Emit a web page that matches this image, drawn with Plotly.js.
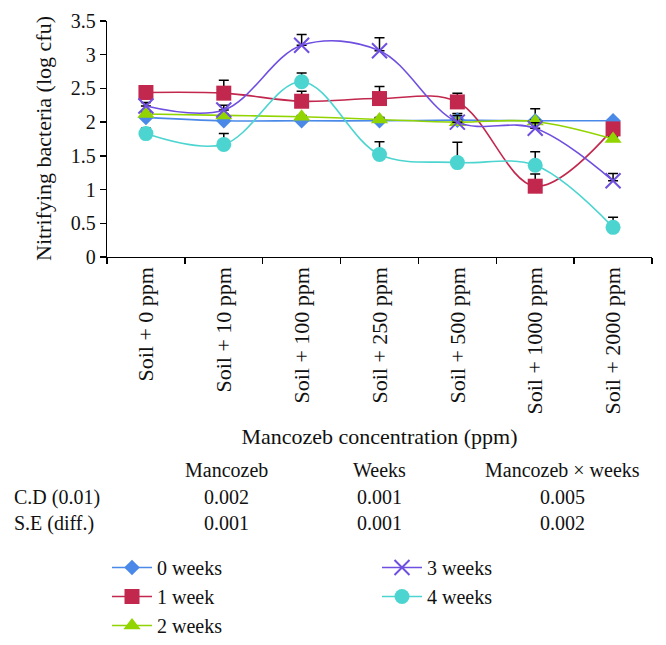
<!DOCTYPE html>
<html>
<head>
<meta charset="utf-8">
<script src="https://cdn.plot.ly/plotly-3.0.1.min.js"></script>
<style>html,body{margin:0;padding:0;background:#fff;}#chart{width:666px;height:645px;}</style>
</head>
<body>
<div id="chart"></div>
<script>
// ---- data ----
const categories = ["Soil + 0 ppm", "Soil + 10 ppm", "Soil + 100 ppm", "Soil + 250 ppm", "Soil + 500 ppm", "Soil + 1000 ppm", "Soil + 2000 ppm"];
const seriesNames = ["0 weeks", "1 week", "2 weeks", "3 weeks", "4 weeks"];
const week0 = [2.07, 2.02, 2.02, 2.02, 2.03, 2.02, 2.02];
const week1 = [2.44, 2.43, 2.31, 2.35, 2.30, 1.05, 1.90];
const week2 = [2.12, 2.10, 2.08, 2.04, 2.00, 2.01, 1.75];
const week3 = [2.24, 2.18, 3.14, 3.06, 2.00, 1.91, 1.13];
const week4 = [1.83, 1.67, 2.60, 1.52, 1.40, 1.36, 0.44];
const err0 = [0.03, 0.02, 0.02, 0.02, 0.10, 0.18, 0.02];
const err1 = [0.03, 0.19, 0.15, 0.18, 0.13, 0.18, 0.03];
const err2 = [0.03, 0.02, 0.02, 0.03, 0.03, 0.02, 0.03];
const err3 = [0.05, 0.07, 0.16, 0.19, 0.10, 0.08, 0.11];
const err4 = [0.08, 0.16, 0.13, 0.19, 0.30, 0.20, 0.15];
const tableCols = ["Mancozeb", "Weeks", "Mancozeb × weeks"];
const tableRows = ["C.D (0.01)", "S.E (diff.)"];
const cdValues = ["0.002", "0.001", "0.005"];
const seValues = ["0.001", "0.001", "0.002"];
const yTitle = "Nitrifying bacteria (log cfu)";
const xTitle = "Mancozeb concentration (ppm)";

// ---- style ----
const W = 666, H = 645;
const M = {l: 107, r: 14, t: 21, b: 388, autoexpand: false};
const PW = W - M.l - M.r, PH = H - M.t - M.b;
const px = x => (x - M.l) / PW;
const py = y => (H - M.b - y) / PH;
const serif = "Liberation Serif, Times New Roman, serif";
const colors = ["#4a89e8", "#c2274d", "#92d400", "#6f4fe0", "#4cd5d0"];
const symbols = ["diamond", "square", "triangle-up", "x-thin-open", "circle"];
const sizes = [12, 15, 15, 15, 15];
const values = [week0, week1, week2, week3, week4];
const errs = [err0, err1, err2, err3, err4];
const legendOf = ["legend", "legend", "legend", "legend2", "legend2"];

const traces = values.map((v, i) => ({
  type: "scatter",
  mode: "lines+markers",
  name: seriesNames[i],
  x: categories,
  y: v,
  legend: legendOf[i],
  line: {color: colors[i], width: 1.6, shape: "spline", smoothing: 1},
  marker: {symbol: symbols[i], size: sizes[i], color: colors[i],
           line: {color: colors[i], width: i === 3 ? 2 : 0}},
  error_y: {type: "data", symmetric: false, array: errs[i],
            arrayminus: errs[i].map(() => 0), color: "#000", thickness: 1.5, width: 5}
}));

const annotations = [];
const colX = [226, 379, 562];
tableCols.forEach((t, j) => annotations.push({text: t, x: px(colX[j]), y: py(470)}));
tableRows.forEach((t, r) => annotations.push({text: t, x: px(12), y: py(r === 0 ? 497 : 523), xanchor: "left"}));
cdValues.forEach((t, j) => annotations.push({text: t, x: px(colX[j]), y: py(497)}));
seValues.forEach((t, j) => annotations.push({text: t, x: px(colX[j]), y: py(523)}));
annotations.forEach(a => {
  a.xref = "paper"; a.yref = "paper"; a.showarrow = false;
  if (!a.xanchor) a.xanchor = "center";
  a.yanchor = "middle";
  a.font = {family: serif, size: 20, color: "#111"};
});
// y-axis title
annotations.push({
  text: yTitle, xref: "paper", yref: "paper", x: px(43), y: 0.5,
  xanchor: "center", yanchor: "middle", textangle: -90, showarrow: false,
  font: {family: serif, size: 22, color: "#111"}
});

const legendBase = {
  orientation: "v", xref: "container", yref: "container",
  yanchor: "top", xanchor: "left", bgcolor: "rgba(0,0,0,0)",
  font: {family: serif, size: 20, color: "#111"}, itemwidth: 40,
  tracegroupgap: 0
};

const layout = {
  width: W, height: H,
  margin: M,
  paper_bgcolor: "#fff", plot_bgcolor: "#fff",
  font: {family: serif, color: "#111"},
  showlegend: true,
  legend: Object.assign({}, legendBase, {x: 107 / W, y: 1 - 548 / H}),
  legend2: Object.assign({}, legendBase, {x: 377 / W, y: 1 - 548 / H}),
  xaxis: {
    type: "category",
    range: [-0.5, categories.length - 0.5],
    tickson: "boundaries",
    ticks: "outside", ticklen: 6, tickcolor: "#000", tickwidth: 1.3,
    showline: true, linecolor: "#000", linewidth: 1.3,
    showgrid: false, zeroline: false,
    tickangle: -90,
    tickfont: {family: serif, size: 22, color: "#111"},
    title: {text: xTitle, font: {family: serif, size: 22, color: "#111"}, standoff: 15},
    automargin: false
  },
  yaxis: {
    range: [0, 3.5], dtick: 0.5,
    ticks: "outside", ticklen: 6, tickcolor: "#000", tickwidth: 1.3,
    showline: true, linecolor: "#000", linewidth: 1.3,
    showgrid: false, zeroline: false,
    tickfont: {family: serif, size: 20, color: "#111"},
    automargin: false
  },
  annotations: annotations
};

Plotly.newPlot("chart", traces, layout, {displayModeBar: false, staticPlot: true});
</script>
</body>
</html>
